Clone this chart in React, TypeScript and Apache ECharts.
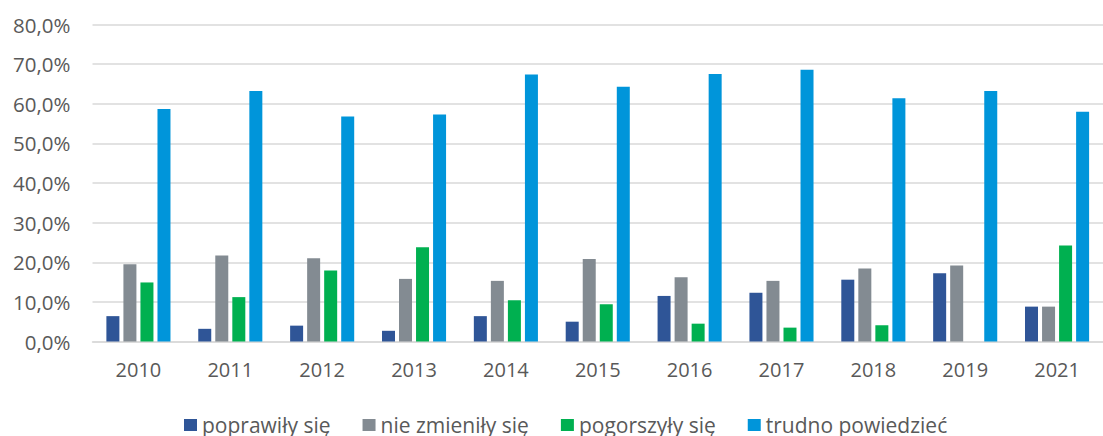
import React, { useEffect, useRef } from "react";
import * as echarts from "echarts";

const categories = ["2010", "2011", "2012", "2013", "2014", "2015", "2016", "2017", "2018", "2019", "2021"];
const seriesNames = ["poprawiły się", "nie zmieniły się", "pogorszyły się", "trudno powiedzieć"];
const poprawily = [6.4, 3.2, 4.0, 2.7, 6.4, 5.0, 11.5, 12.3, 15.6, 17.2, 8.8];
const nieZmienily = [19.5, 21.7, 21.0, 15.8, 15.3, 20.8, 16.2, 15.3, 18.4, 19.2, 8.8];
const pogorszyly = [14.9, 11.2, 17.9, 23.8, 10.4, 9.4, 4.5, 3.5, 4.1, 0, 24.2];
const trudno = [58.7, 63.2, 56.8, 57.3, 67.4, 64.3, 67.5, 68.6, 61.4, 63.2, 58.0];
const colors = ["#2F5597", "#838B92", "#00B050", "#0095DA"];

const FONT = "'Open Sans', 'Liberation Sans', sans-serif";
const TEXT = "#595959";

export default function App() {
  const ref = useRef<HTMLDivElement>(null);
  useEffect(() => {
    if (!ref.current) return;
    const chart = echarts.init(ref.current, null, { renderer: "svg" });
    const data = [poprawily, nieZmienily, pogorszyly, trudno];
    chart.setOption({
      animation: false,
      color: colors,
      grid: { left: 92.5, top: 24.5, width: 1024, height: 317 },
      legend: {
        left: 184,
        top: 411,
        padding: 0,
        itemWidth: 13,
        itemHeight: 12,
        itemGap: 32,
        icon: "rect",
        textStyle: { fontFamily: FONT, fontSize: 21, color: TEXT, lineHeight: 28 },
        data: seriesNames,
      },
      xAxis: {
        type: "category",
        data: categories,
        axisLine: { lineStyle: { color: "#D9D9D9", width: 1.5 } },
        axisTick: { show: false },
        axisLabel: { fontFamily: FONT, fontSize: 20, color: TEXT, margin: 18 },
      },
      yAxis: {
        type: "value",
        min: 0,
        max: 80,
        interval: 10,
        axisLabel: {
          fontFamily: FONT,
          fontSize: 20.5,
          color: TEXT,
          margin: 22,
          formatter: (v: number) => v.toFixed(1).replace(".", ",") + "%",
        },
        splitLine: { lineStyle: { color: "#D9D9D9", width: 1.5 } },
        axisLine: { show: false },
        axisTick: { show: false },
      },
      series: seriesNames.map((name, i) => ({
        name,
        type: "bar",
        data: data[i],
        barWidth: 13,
        barGap: "31%",
      })),
    });
    return () => chart.dispose();
  }, []);
  return <div ref={ref} style={{ width: 1103, height: 436, position: "absolute", left: 0, top: 0 }} />;
}
